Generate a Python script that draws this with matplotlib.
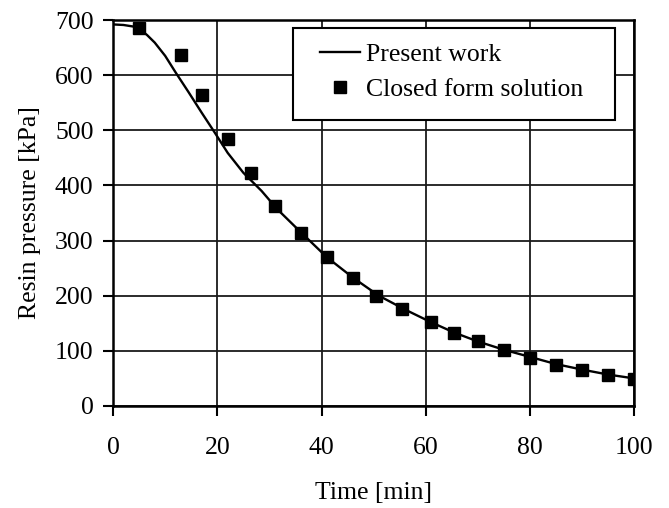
import matplotlib
matplotlib.use("Agg")
import matplotlib.pyplot as plt
from matplotlib.patches import Rectangle

# Numerical model: resin pressure vs time
time_model = [0, 2, 4, 5, 6.5, 8, 10, 12, 14.5, 17, 19.5, 22, 25, 28.5, 31.5,
              35.5, 41, 46, 51, 56, 61, 65.5, 70, 75, 80, 85, 90, 95, 100]
pressure_model = [692, 691, 688, 684, 673, 659, 635, 605, 569, 532, 496, 459,
                  423, 390, 357, 320, 270, 233, 200, 175, 152, 133, 117, 102,
                  89, 76, 66, 57, 50]

# Analytical (closed form) solution
time_exact = [5, 13, 17, 22, 26.5, 31, 36, 41, 46, 50.5, 55.5, 61, 65.5, 70,
              75, 80, 85, 90, 95, 100]
pressure_exact = [685, 637, 564, 485, 422, 362, 313, 270, 232, 199, 175, 152,
                  132, 117, 101, 87, 75, 65, 56, 49]

x_ticks = [0, 20, 40, 60, 80, 100]
y_ticks = [0, 100, 200, 300, 400, 500, 600, 700]

plt.rcParams["font.family"] = ["Liberation Serif", "DejaVu Serif"]

fig = plt.figure(figsize=(6.69, 5.08), dpi=100)
ax = fig.add_axes([0.169, 0.2008, 0.779, 0.7598])

ax.plot(time_model, pressure_model, color="black", linewidth=1.7,
        label="Present work", zorder=3)
ax.plot(time_exact, pressure_exact, linestyle="none", marker="s",
        markersize=8.8, color="black", label="Closed form solution", zorder=4)

ax.set_xlim(0, 100)
ax.set_ylim(0, 700)
ax.set_xticks(x_ticks)
ax.set_yticks(y_ticks)
ax.grid(True, color="#1a1a1a", linewidth=1.3)
ax.set_axisbelow(True)

for s in ax.spines.values():
    s.set_linewidth(1.8)
    s.set_color("black")

ax.tick_params(direction="out", length=7, width=1.5, labelsize=18.5,
               colors="black")
ax.tick_params(axis="x", pad=15)
ax.tick_params(axis="y", pad=7)

ax.set_xlabel("Time [min]", fontsize=18.5, labelpad=17)
ax.set_ylabel("Resin pressure [kPa]", fontsize=18.5, labelpad=10)

# Legend box: white panel with black border over the grid
box = Rectangle((0.3455, 0.741), 0.618, 0.238, transform=ax.transAxes,
                facecolor="white", edgecolor="black", linewidth=1.5,
                zorder=5)
ax.add_patch(box)

leg = ax.legend(loc="upper left", bbox_to_anchor=(0.397, 0.94),
                fontsize=18.5, frameon=False, handlelength=1.55,
                handletextpad=0.25, borderpad=0, labelspacing=0.45,
                borderaxespad=0)
leg.set_zorder(6)

fig.savefig("out.png", dpi=100)
